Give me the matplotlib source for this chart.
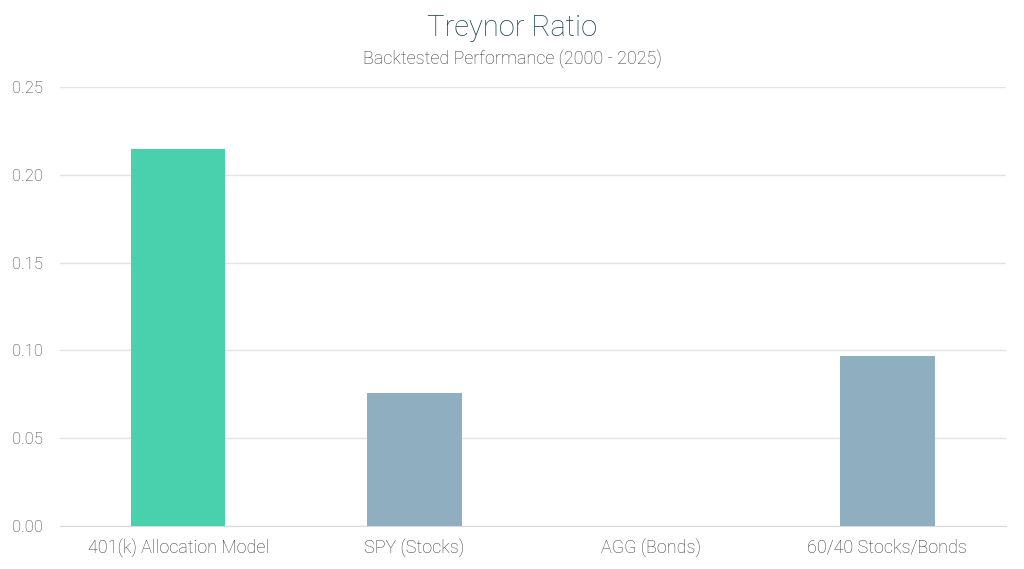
import matplotlib
matplotlib.use("Agg")
import matplotlib.pyplot as plt

categories = ['401(k) Allocation Model', 'SPY (Stocks)', 'AGG (Bonds)', '60/40 Stocks/Bonds']
treynor = [0.215, 0.076, 0.0, 0.097]
colors = ['#48D1AC', '#8FAFC1', '#8FAFC1', '#8FAFC1']
yticks = [0.00, 0.05, 0.10, 0.15, 0.20, 0.25]

plt.rcParams['font.family'] = ['Roboto', 'DejaVu Sans']

fig = plt.figure(figsize=(10.24, 5.69), dpi=100)
ax = fig.add_axes([0.0586, 0.0756, 0.9234, 0.7714])

x = range(len(categories))
ax.bar(x, treynor, width=0.4, color=colors, zorder=3)

ax.set_xlim(-0.5, len(categories) - 0.5)
ax.set_ylim(0, 0.25)
ax.set_yticks(yticks)
ax.set_yticklabels(['%.2f' % v for v in yticks])
ax.set_xticks(list(x))
ax.set_xticklabels(categories)
ax.grid(axis='y', color='#E3E3E3', linewidth=1, zorder=0)
for s in ['top', 'right', 'left']:
    ax.spines[s].set_visible(False)
ax.spines['bottom'].set_color('#DADADA')
ax.tick_params(axis='x', length=0, labelsize=13, labelcolor='#3A3A3A', pad=9)
ax.tick_params(axis='y', length=0, labelsize=12, labelcolor='#3A3A3A', pad=12)
for lbl in ax.get_xticklabels() + ax.get_yticklabels():
    lbl.set_fontweight('light')

fig.text(0.5, 0.951, 'Treynor Ratio', ha='center', va='center', fontsize=21,
         color='#174657', fontweight='light')
fig.text(0.5, 0.898, 'Backtested Performance (2000 - 2025)', ha='center', va='center',
         fontsize=13, color='#3A3A3A', fontweight='light')

fig.savefig('out.png', dpi=100)
